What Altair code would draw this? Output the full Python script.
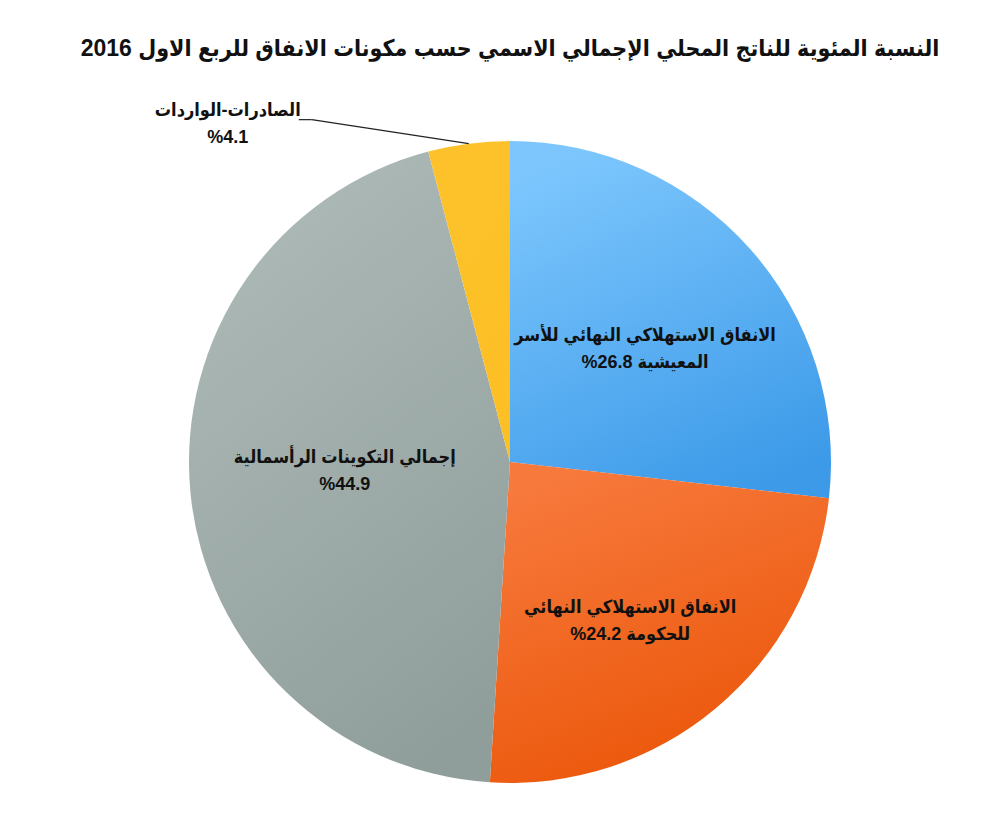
import altair as alt
import pandas as pd

# ---------------- data ----------------
keys = ["household", "government", "capital", "net_exports"]
values = [26.8, 24.2, 44.9, 4.1]
name_line1 = [
    "الانفاق الاستهلاكي النهائي للأسر",
    "الانفاق الاستهلاكي النهائي",
    "إجمالي التكوينات الرأسمالية",
    "الصادرات-الواردات",
]
name_line2 = ["المعيشية", "للحكومة", "", ""]
title_text = "النسبة المئوية للناتج المحلي الإجمالي الاسمي حسب مكونات الانفاق للربع الاول 2016"

# ---------------- layout / style ----------------
W, H = 980, 704
PAD = {"left": 20, "right": 0, "top": 110, "bottom": 2}
CX, CY = W / 2, H / 2
R = 321
FONT = "Liberation Sans, DejaVu Sans Condensed, DejaVu Sans"
# label placement: radius along the slice's mid-angle, plus a vertical nudge
label_radius = {"household": 181, "government": 187, "capital": 166}
label_dy = {"household": -5, "government": 3, "capital": -20}
gradients = {
    "household": ["#7cc6fd", "#3c9ae8"],
    "government": ["#f7793c", "#ea5406"],
    "capital": ["#adbab7", "#909e9b"],
    "net_exports": ["#fdc22b", "#fcbf24"],
}


def make_label(l1, l2, v):
    # number first so that it renders on the left of the Arabic word
    second = "%" + f"{v}" + ("  " + l2 if l2 else "")
    return l1 + "\n" + second


df = pd.DataFrame({
    "key": keys,
    "value": values,
    "order": list(range(len(keys))),
    "label": [make_label(a, b, v) for a, b, v in zip(name_line1, name_line2, values)],
})

theta_scale = alt.Scale(domain=[0, 100], range=[0, 6.283185307179586])

base = (
    alt.Chart(df)
    .transform_window(cum="sum(value)", sort=[{"field": "order"}])
    .transform_calculate(start="datum.cum - datum.value",
                         mid="datum.cum - datum.value / 2")
    .transform_calculate(ang="datum.mid / 100 * 2 * PI")
)

layers = []
for k in keys:
    c0, c1 = gradients[k]
    grad = alt.Gradient(
        gradient="linear",
        stops=[alt.GradientStop(color=c0, offset=0), alt.GradientStop(color=c1, offset=1)],
        x1=0.3, x2=0.7, y1=0, y2=1,
    )
    layers.append(
        base.transform_filter(alt.datum.key == k)
        .mark_arc(outerRadius=R, color=grad, stroke=None)
        .encode(
            theta=alt.Theta("start:Q", scale=theta_scale),
            theta2="cum:Q",
        )
    )

# inner labels
rexpr = " : ".join(f"datum.key == '{k}' ? {r}" for k, r in label_radius.items()) + " : 0"
dyexpr = " : ".join(f"datum.key == '{k}' ? {d}" for k, d in label_dy.items()) + " : 0"
inner = (
    base.transform_filter("datum.key != 'net_exports'")
    .transform_calculate(lr=rexpr, ldy=dyexpr)
    .transform_calculate(
        lx=f"{CX} + datum.lr * sin(datum.ang)",
        ly=f"{CY} - datum.lr * cos(datum.ang) + datum.ldy",
    )
    .mark_text(font=FONT, fontSize=18, fontWeight="bold", lineBreak="\n",
               lineHeight=27, align="center", baseline="middle", color="#111111")
    .encode(
        x=alt.X("lx:Q", scale=None),
        y=alt.Y("ly:Q", scale=None),
        text="label:N",
    )
)

# outer label with leader line (net exports)
outer_base = (
    base.transform_filter("datum.key == 'net_exports'")
    .transform_calculate(
        ex=f"{CX} + {R} * sin(datum.ang)",
        ey=f"{CY} - {R} * cos(datum.ang)",
    )
    .transform_calculate(
        kx="datum.ex - 157", ky="datum.ey - 24",
        hx="datum.ex - 170",
        tx="datum.ex - 241", ty="datum.ey - 33",
    )
)
leader1 = outer_base.mark_rule(color="#222222", strokeWidth=1.2).encode(
    x=alt.X("ex:Q", scale=None), y=alt.Y("ey:Q", scale=None),
    x2="kx:Q", y2="ky:Q",
)
leader2 = outer_base.mark_rule(color="#222222", strokeWidth=1.2).encode(
    x=alt.X("kx:Q", scale=None), y=alt.Y("ky:Q", scale=None),
    x2="hx:Q", y2="ky:Q",
)
outer_text = outer_base.mark_text(
    font=FONT, fontSize=18, fontWeight="bold", lineBreak="\n", lineHeight=27,
    align="center", baseline="middle", color="#111111",
).encode(
    x=alt.X("tx:Q", scale=None), y=alt.Y("ty:Q", scale=None), text="label:N",
)

chart = (
    alt.layer(*layers, inner, leader1, leader2, outer_text)
    .properties(
        width=W, height=H,
        padding=PAD,
        autosize=alt.AutoSizeParams(type="none"),
        title=alt.TitleParams(title_text, font=FONT, fontSize=23, fontWeight="bold",
                              color="#111111", anchor="middle", offset=41),
        background="white",
    )
    .configure_view(stroke=None)
)

chart.save("out.html", embed_options={"renderer": "svg", "actions": False})
